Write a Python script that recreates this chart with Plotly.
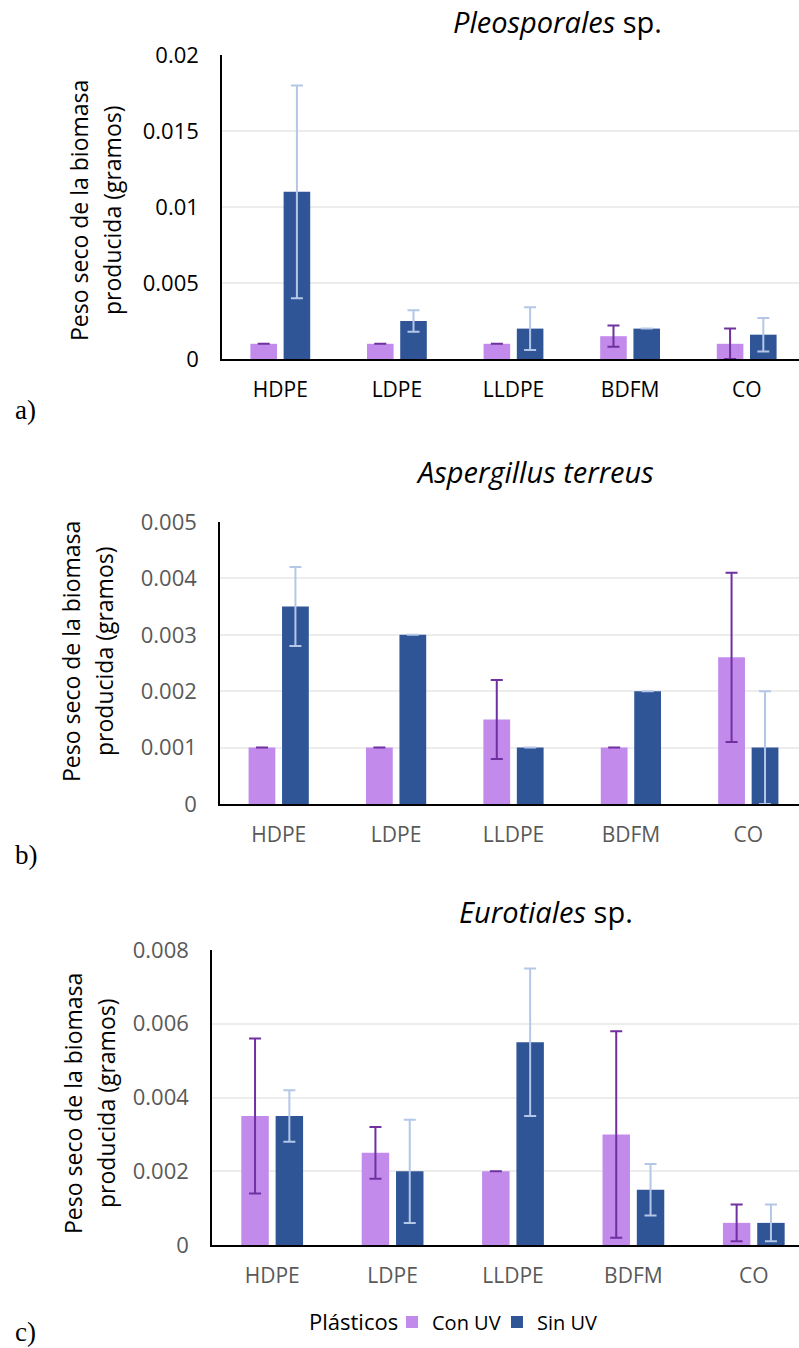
import plotly.graph_objects as go

categories = ["HDPE", "LDPE", "LLDPE", "BDFM", "CO"]

# Panel a) Pleosporales sp.
a_con = [0.001, 0.001, 0.001, 0.0015, 0.001]
a_con_err = [0.0, 0.0, 0.0, 0.0007, 0.001]
a_sin = [0.011, 0.0025, 0.002, 0.002, 0.0016]
a_sin_err = [0.007, 0.0007, 0.0014, 0.0, 0.0011]

# Panel b) Aspergillus terreus
b_con = [0.001, 0.001, 0.0015, 0.001, 0.0026]
b_con_err = [0.0, 0.0, 0.0007, 0.0, 0.0015]
b_sin = [0.0035, 0.003, 0.001, 0.002, 0.001]
b_sin_err = [0.0007, 0.0, 0.0, 0.0, 0.001]

# Panel c) Eurotiales sp.
c_con = [0.0035, 0.0025, 0.002, 0.003, 0.0006]
c_con_err = [0.0021, 0.0007, 0.0, 0.0028, 0.0005]
c_sin = [0.0035, 0.002, 0.0055, 0.0015, 0.0006]
c_sin_err = [0.0007, 0.0014, 0.002, 0.0007, 0.0005]

a_ticks = [0, 0.005, 0.01, 0.015, 0.02]
a_ticktext = ["0", "0.005", "0.01", "0.015", "0.02"]
b_ticks = [0, 0.001, 0.002, 0.003, 0.004, 0.005]
b_ticktext = ["0", "0.001", "0.002", "0.003", "0.004", "0.005"]
c_ticks = [0, 0.002, 0.004, 0.006, 0.008]
c_ticktext = ["0", "0.002", "0.004", "0.006", "0.008"]

titles = ["<i>Pleosporales</i> sp.", "<i>Aspergillus terreus</i>", "<i>Eurotiales</i> sp."]
series_names = ["Con UV", "Sin UV"]
ytitle_lines = ["Peso seco de la biomasa", "producida (gramos)"]
legend_title = "Plásticos"

PURPLE = "#C18AEB"
PURPLE_ERR = "#7030A0"
BLUE = "#2F5597"
BLUE_ERR = "#B4C7E7"
FONT = "Open Sans"

W, H = 799, 1348

def py(p):
    return 1 - p / H

fig = go.Figure()

panels = [
    dict(con=a_con, cerr=a_con_err, sin=a_sin, serr=a_sin_err, xa="x", ya="y",
         ticks=a_ticks, tt=a_ticktext, top=55, bot=359, left=222, right_cut=6/116.75,
         ymax=0.02, tcolor="#000000", legend=False),
    dict(con=b_con, cerr=b_con_err, sin=b_sin, serr=b_sin_err, xa="x2", ya="y2",
         ticks=b_ticks, tt=b_ticktext, top=522, bot=804, left=220, right_cut=8/117.5,
         ymax=0.005, tcolor="#595959", legend=False),
    dict(con=c_con, cerr=c_con_err, sin=c_sin, serr=c_sin_err, xa="x3", ya="y3",
         ticks=c_ticks, tt=c_ticktext, top=950, bot=1245, left=212, right_cut=15/120.5,
         ymax=0.008, tcolor="#595959", legend=True),
]

layout_axes = {}
for i, p in enumerate(panels):
    fig.add_trace(go.Bar(
        x=categories, y=p["con"], name=series_names[0], xaxis=p["xa"], yaxis=p["ya"],
        marker=dict(color=PURPLE, line=dict(width=0)),
        error_y=dict(type="data", array=p["cerr"], color=PURPLE_ERR, thickness=2, width=6),
        showlegend=p["legend"], legendgroup="con", legend="legend",
    ))
    fig.add_trace(go.Bar(
        x=categories, y=p["sin"], name=series_names[1], xaxis=p["xa"], yaxis=p["ya"],
        marker=dict(color=BLUE, line=dict(width=0)),
        error_y=dict(type="data", array=p["serr"], color=BLUE_ERR, thickness=2, width=6),
        showlegend=p["legend"], legendgroup="sin", legend="legend2",
    ))
    sfx = "" if i == 0 else str(i + 1)
    layout_axes["xaxis" + sfx] = dict(
        domain=[p["left"] / W, 1.0], anchor="y" + sfx,
        type="category", range=[-0.5, 4.5 - p["right_cut"]],
        showline=True, linecolor="#000000", linewidth=1.5,
        showgrid=False, ticks="", ticklabelstandoff=11,
        tickfont=dict(family=FONT, size=21, color=p["tcolor"]),
    )
    layout_axes["yaxis" + sfx] = dict(
        domain=[py(p["bot"]), py(p["top"])], anchor="x" + sfx,
        range=[0, p["ymax"]], tickvals=p["ticks"], ticktext=p["tt"],
        showline=True, linecolor="#000000", linewidth=1.5,
        showgrid=True, gridcolor="#EDEDED", gridwidth=1.5,
        zeroline=False, ticks="", ticklabelstandoff=17,
        tickfont=dict(family=FONT, size=22, color=p["tcolor"]),
    )

annotations = []
title_pos = [(557, 22), (535, 471), (546, 911)]
for t, (x, y) in zip(titles, title_pos):
    annotations.append(dict(text=t, x=x / W, y=py(y), xref="paper", yref="paper",
                            showarrow=False, xanchor="center", yanchor="middle",
                            font=dict(family=FONT, size=29, color="#000000")))

# (x line1, x line2, y center)
ytitle_pos = [(79, 112, 211), (71, 104, 652), (73, 106, 1104)]
for (x1, x2, y) in ytitle_pos:
    for txt, x in zip(ytitle_lines, (x1, x2)):
        annotations.append(dict(text=txt, x=x / W, y=py(y), xref="paper", yref="paper",
                                showarrow=False, xanchor="center", yanchor="middle",
                                textangle=-90,
                                font=dict(family=FONT, size=23, color="#000000")))

labels = [("a)", 410), ("b)", 855), ("c)", 1332)]
for txt, y in labels:
    annotations.append(dict(text=txt, x=13 / W, y=py(y), xref="paper", yref="paper",
                            showarrow=False, xanchor="left", yanchor="middle",
                            font=dict(family="Liberation Serif", size=27, color="#000000")))

annotations.append(dict(text=legend_title, x=353 / W, y=py(1321), xref="paper", yref="paper",
                        showarrow=False, xanchor="center", yanchor="middle",
                        font=dict(family=FONT, size=22, color="#000000")))

leg_common = dict(orientation="h", xanchor="left", y=py(1322), yanchor="middle",
                  font=dict(family=FONT, size=20, color="#000000"),
                  bgcolor="rgba(0,0,0,0)", itemwidth=30)

fig.update_layout(
    width=W, height=H,
    margin=dict(l=0, r=0, t=0, b=0, autoexpand=False),
    paper_bgcolor="white", plot_bgcolor="white",
    barmode="group", bargap=0.43, bargroupgap=0.2,
    annotations=annotations,
    showlegend=True,
    legend=dict(x=392 / W, **leg_common),
    legend2=dict(x=497 / W, **leg_common),
    **layout_axes,
)

fig.write_html("out.html")
